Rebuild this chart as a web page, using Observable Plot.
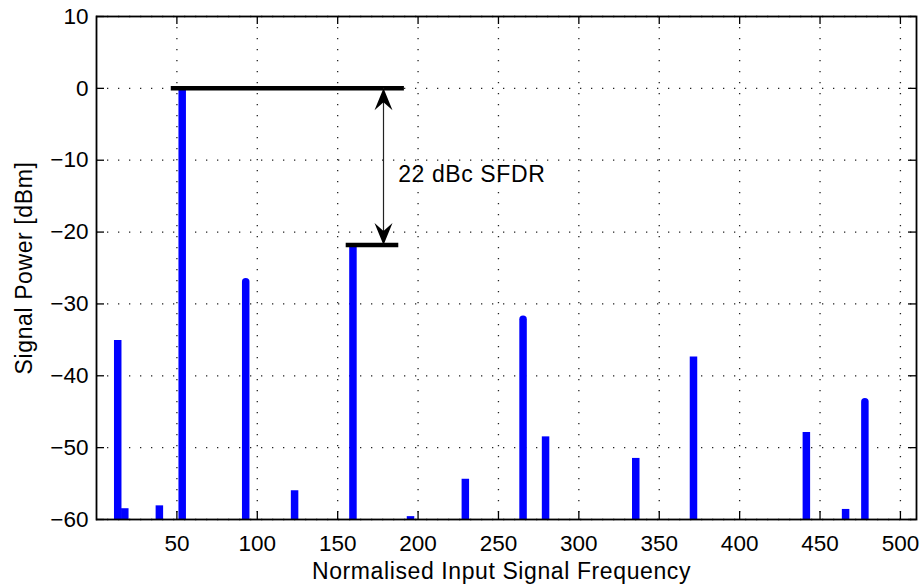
<!DOCTYPE html>
<html><head><meta charset="utf-8">
<script src="https://cdn.jsdelivr.net/npm/d3@7"></script>
<script src="https://cdn.jsdelivr.net/npm/@observablehq/plot@0.6"></script>
<style>
html,body{margin:0;padding:0;background:#fff;}
</style>
</head><body><div id="chart"></div>
<script>
// ---- data ----
const freqs    = [13.2, 17.6, 39.1, 53.3, 92.8, 123.2, 159.5, 195.3, 229.4, 265.3, 279.3, 335.4, 371.3, 441.5, 465.9, 477.9];
const powers   = [-35.1, -58.5, -58.1, 0, -27.0, -56.0, -21.8, -59.6, -54.4, -32.2, -48.5, -51.5, -37.4, -47.9, -58.6, -43.7];
const roundTip = [false, false, false, false, true, false, false, false, false, true, false, false, false, false, false, true];
const xTicks = [50, 100, 150, 200, 250, 300, 350, 400, 450, 500];
const yTicks = [-60, -50, -40, -30, -20, -10, 0, 10];
const xDomain = [0, 510];
const refLevels = [0, -21.8];
const refStart  = [46.5, 155.3];
const refEnd    = [191.5, 188];
const arrowFreq = 178.5;
const noteText = "22 dBc SFDR";
const noteFreq = 187.6;
const noteLevel = -12;
const xLabel = "Normalised Input Signal Frequency";
const yLabel = "Signal Power [dBm]";

// ---- build tables ----
const stems = freqs.map((f, i) => ({f, p: powers[i], round: roundTip[i]}));
const refs = refLevels.map((p, i) => ({p, x1: refStart[i], x2: refEnd[i]}));
const yMin = yTicks[0];

const W = 923, H = 587, mL = 96, mR = 7, mT = 16, mB = 68;
const frameH = H - mT - mB, frameW = W - mL - mR;
const tickLen = 8;
const font = "'Liberation Sans', Arial, Helvetica, sans-serif";

const arrowHead = {
  draw(context) {
    const L = 22, Wd = 9, N = 14;
    context.moveTo(0, 0);
    context.lineTo(Wd, L);
    context.lineTo(0, N);
    context.lineTo(-Wd, L);
    context.closePath();
  }
};

const chart = Plot.plot({
  width: W, height: H,
  marginLeft: mL, marginRight: mR, marginTop: mT, marginBottom: mB,
  style: {fontFamily: font, fontSize: "22.5px", background: "#fff", color: "#000"},
  x: {domain: xDomain, ticks: xTicks, tickSize: 0, tickPadding: 16, label: null, tickFormat: d => String(d)},
  y: {domain: [yMin, yTicks[yTicks.length - 1]], ticks: yTicks, tickSize: 0, tickPadding: 8, label: null,
      tickFormat: d => d < 0 ? "\u2212" + Math.abs(d) : String(d)},
  marks: [
    // dotted grid
    Plot.ruleX(xTicks, {x: d => d, stroke: "#222", strokeWidth: 1.3, strokeDasharray: "1.3,9.7"}),
    Plot.ruleY(yTicks, {y: d => d, stroke: "#222", strokeWidth: 1.3, strokeDasharray: "1.3,9.7"}),
    // stems (flat tips)
    Plot.ruleX(stems.filter(d => !d.round), {x: "f", y1: () => yMin, y2: "p", stroke: "#0000ff", strokeWidth: 7.5}),
    // stems (rounded tips)
    Plot.ruleX(stems.filter(d => d.round), {x: "f", y1: () => yMin, y2: "p", stroke: "#0000ff", strokeWidth: 7.5, strokeLinecap: "round", clip: true}),
    // reference levels
    Plot.ruleY(refs, {y: "p", x1: "x1", x2: "x2", stroke: "#000", strokeWidth: 4.5}),
    // arrow shaft
    Plot.ruleX([arrowFreq], {x: d => d, y1: () => refLevels[0], y2: () => refLevels[1], stroke: "#222", strokeWidth: 1.2}),
    // arrow heads
    Plot.dot(refLevels, {x: () => arrowFreq, y: d => d, symbol: arrowHead, r: 5, fill: "#000", stroke: "none",
                         rotate: (d, i) => i === 0 ? 0 : 180}),
    // annotation
    Plot.text([noteText], {x: () => noteFreq, y: () => noteLevel, text: d => d, textAnchor: "start", lineAnchor: "middle",
                           fontSize: 23}),
    // inward ticks on all four sides
    Plot.ruleX(xTicks, {x: d => d, insetTop: frameH - tickLen, stroke: "#000", strokeWidth: 1.3}),
    Plot.ruleX(xTicks, {x: d => d, insetBottom: frameH - tickLen, stroke: "#000", strokeWidth: 1.3}),
    Plot.ruleY(yTicks, {y: d => d, insetRight: frameW - tickLen, stroke: "#000", strokeWidth: 1.3}),
    Plot.ruleY(yTicks, {y: d => d, insetLeft: frameW - tickLen, stroke: "#000", strokeWidth: 1.3}),
    Plot.frame({stroke: "#000", strokeWidth: 1.8}),
    // axis titles
    Plot.text([xLabel], {frameAnchor: "bottom", text: d => d, textAnchor: "middle", lineAnchor: "bottom", dx: -5, dy: 59, fontSize: 23}),
    Plot.text([yLabel], {frameAnchor: "left", text: d => d, textAnchor: "middle", rotate: -90, lineAnchor: "middle", dx: -72, fontSize: 23})
  ]
});
// slight letter spacing on the titles to match the reference's wider text
chart.querySelectorAll("text").forEach(t => {
  if (t.textContent === xLabel || t.textContent === yLabel || t.textContent === noteText) t.setAttribute("letter-spacing", "0.6");
});
document.getElementById("chart").appendChild(chart);
</script>
</body></html>
